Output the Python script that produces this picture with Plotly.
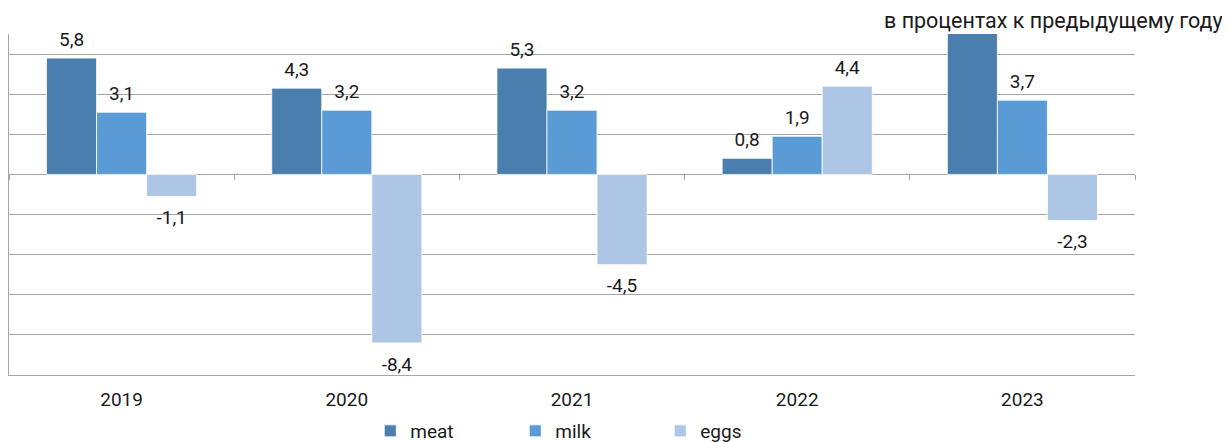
import plotly.graph_objects as go

years = ["2019", "2020", "2021", "2022", "2023"]
meat = [5.8, 4.3, 5.3, 0.8, 7.6]
milk = [3.1, 3.2, 3.2, 1.9, 3.7]
eggs = [-1.1, -8.4, -4.5, 4.4, -2.3]
series_names = ["meat", "milk", "eggs"]
colors = ["#4A7EAE", "#5B9BD5", "#AEC6E5"]
title_text = "в процентах к предыдущему году"
y_min, y_max = -10, 7

fig = go.Figure()
for name, vals, col in zip(series_names, [meat, milk, eggs], colors):
    fig.add_trace(go.Bar(
        x=years, y=vals, name=name, offsetgroup=name,
        marker=dict(color=col, line=dict(color="white", width=0.8)),
        cliponaxis=True, hoverinfo="skip",
    ))
# data labels as grouped text scatter, aligned with the bars
for name, vals in zip(series_names, [meat, milk, eggs]):
    labels = [f"{v:.1f}".replace(".", ",") if y_min <= v <= y_max else "" for v in vals]
    fig.add_trace(go.Scatter(
        x=years, y=vals, mode="markers+text", offsetgroup=name, showlegend=False,
        marker=dict(size=[10 if v >= 0 else 20 for v in vals], opacity=0),
        text=labels,
        textposition=["top center" if v >= 0 else "bottom center" for v in vals],
        textfont=dict(size=19, color="#1a1a1a"),
        cliponaxis=False, hoverinfo="skip",
    ))

# invisible helper trace for zero-line tick marks
fig.add_trace(go.Scatter(x=[0, 4], y=[0, 0], xaxis="x2", mode="markers",
                         marker=dict(opacity=0), showlegend=False, hoverinfo="skip"))

grid = "#A6A6A6"
fig.update_layout(
    width=1222, height=434,
    margin=dict(l=1, r=95, t=26, b=67, autoexpand=False),
    paper_bgcolor="white", plot_bgcolor="white",
    font=dict(family="Roboto", size=19, color="#1a1a1a"),
    barmode="group", bargap=1/3, bargroupgap=0,
    scattermode="group", scattergap=1/3,
    showlegend=True,
    legend=dict(orientation="h", x=0.514, xanchor="center", y=-56/341, yanchor="middle",
                font=dict(size=19), entrywidth=100, entrywidthmode="pixels"),
    xaxis=dict(type="category", showline=True, linecolor=grid, linewidth=1,
               ticks="", showgrid=False, tickfont=dict(size=19), ticklabelstandoff=7,
               range=[-0.5, 4.5]),
    xaxis2=dict(overlaying="x", anchor="free", position=10/17, range=[-0.5, 4.5],
                tickvals=[-0.5, 0.5, 1.5, 2.5, 3.5, 4.5], ticks="outside", ticklen=5,
                tickcolor=grid, showticklabels=False, showgrid=False, showline=False,
                zeroline=False),
    yaxis=dict(range=[y_min, y_max], dtick=2, tick0=0, showgrid=True, gridcolor=grid, gridwidth=1,
               zeroline=True, zerolinecolor=grid, zerolinewidth=1,
               showline=True, linecolor=grid, linewidth=1, showticklabels=False, ticks=""),
    annotations=[dict(text=title_text, xref="paper", yref="paper", x=1 + 90/1126, y=1,
                      xanchor="right", yanchor="middle", yshift=14, showarrow=False,
                      font=dict(size=21.5, color="#1a1a1a"))],
)

fig.write_html("out.html")
